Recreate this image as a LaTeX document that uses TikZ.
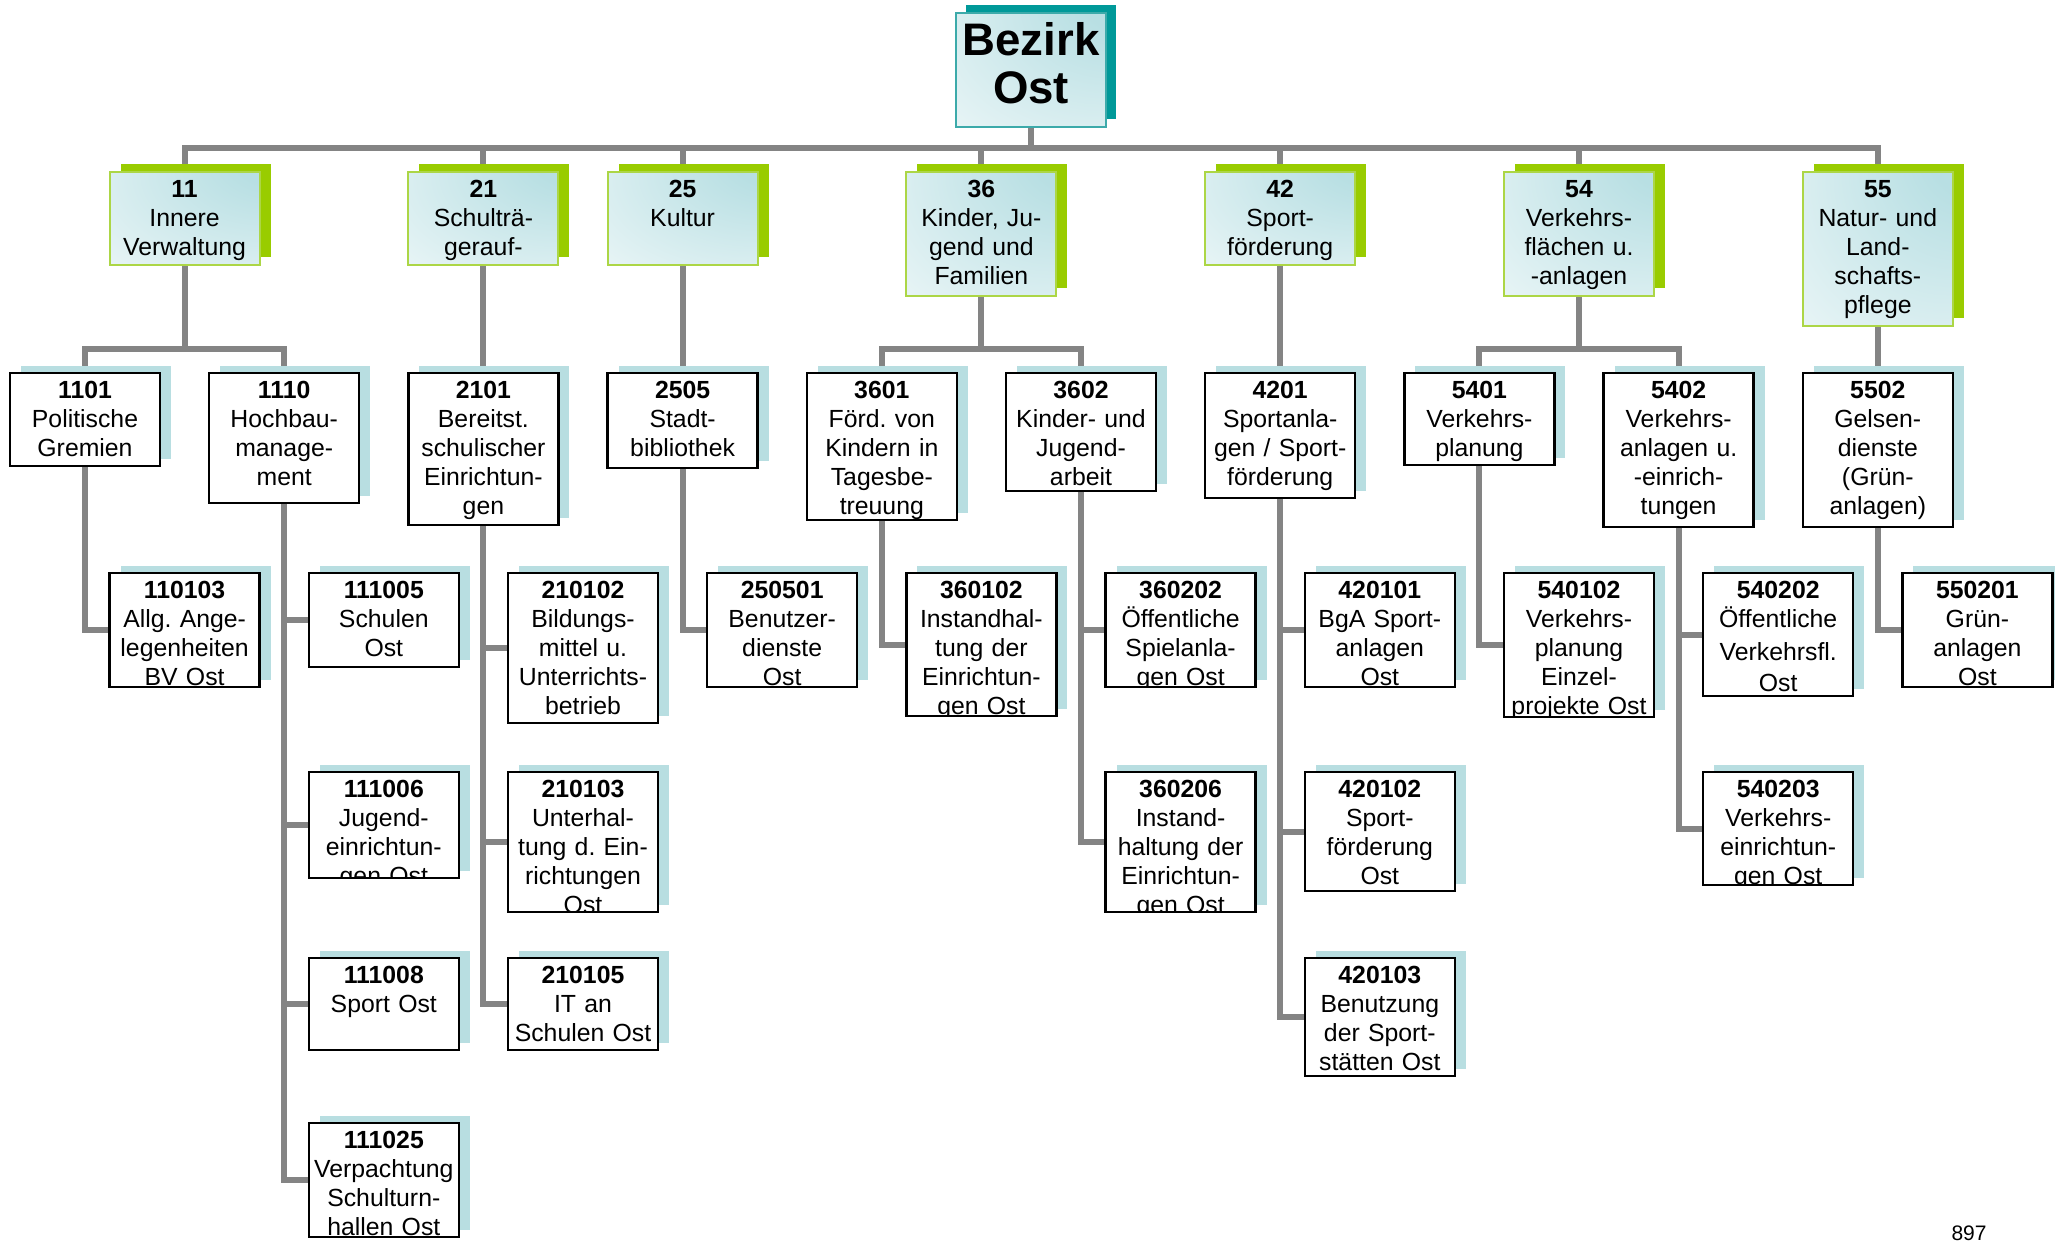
\documentclass[tikz,border=0pt]{standalone}
\usepackage{fontspec}
\setmainfont{Liberation Sans}
\usetikzlibrary{backgrounds}
\definecolor{conncol}{RGB}{132,132,132}
\definecolor{lblue}{RGB}{184,222,225}
\definecolor{lgreen}{RGB}{153,204,0}
\definecolor{lgreenb}{RGB}{172,214,70}
\definecolor{tealc}{RGB}{0,153,153}
\definecolor{tealb}{RGB}{60,170,170}
\definecolor{lcyan}{RGB}{184,223,227}
\pgfdeclareradialshading{boxshade}{\pgfpoint{38bp}{38bp}}{color(0bp)=(lcyan); color(15bp)=(lcyan); color(80bp)=(white); color(100bp)=(white)}
\tikzset{
  conn/.style={draw=conncol, line width=3pt},
  wshadow/.style={fill=lblue, shift={(11,-7)}},
  gshadow/.style={fill=lgreen, shift={(11,-8)}},
  tshadow/.style={fill=tealc, shift={(10,-8)}},
  wbox/.style={rectangle, fill=white, draw=black, line width=1.25pt, minimum width=75pt, inner sep=0pt, outer sep=0pt},
  gbox/.style={rectangle, shade, shading=boxshade, draw=lgreenb, line width=1pt, minimum width=75pt, inner sep=0pt, outer sep=0pt},
  tbox/.style={rectangle, shade, shading=boxshade, draw=tealb, line width=1pt, minimum width=75pt, inner sep=0pt, outer sep=0pt},
  wborder/.style={draw=black, line width=1.25pt},
  gborder/.style={draw=lgreenb, line width=1pt},
  wtext/.style={align=center, text width=90pt, inner sep=0pt, font=\fontsize{12.4}{14.5}\selectfont\frenchspacing},
  gtext/.style={wtext},
  toptext/.style={align=center, text width=100pt, inner sep=0pt, font=\bfseries\fontsize{22.8}{24}\selectfont},
  pagenum/.style={inner sep=0pt, font=\fontsize{10.5}{12}\selectfont}
}
% #1 name, #2 kind (w/g), #3 centre x, #4 top y, #5 height, #6 text
\newcommand\orgbox[6]{%
  \fill[#2shadow] ({#3-75},#4) rectangle ++(150,#5);
  \node[#2box, minimum height={#5*0.5pt}, anchor=north] (#1) at (#3,#4) {};
  \begin{scope}
    \clip (#1.south west) rectangle (#1.north east);
    \node[#2text, anchor=base] (#1t) at (#3,{#4+25}) {#6};
  \end{scope}
  \draw[#2border] (#1.south west) rectangle (#1.north east);
}
\begin{document}
\begin{tikzpicture}[x=0.5pt,y=-0.5pt]
\useasboundingbox (0,0) rectangle (2055,1243);

% top
\fill[tshadow] (956,13) rectangle ++(150,114);
\node[tbox, minimum height=57pt, anchor=north] (top) at (1031,13) {};
\node[toptext, anchor=base] (topt) at (1031,55) {Bezirk\\Ost};

% level 1
\orgbox{l11}{g}{184.6}{172}{93}{\textbf{11}\\Innere\\Verwaltung}
\orgbox{l21}{g}{483.4}{172}{93}{\textbf{21}\\Schulträ-\\gerauf-}
\orgbox{l25}{g}{682.6}{172}{93}{\textbf{25}\\Kultur}
\orgbox{l36}{g}{981.4}{172}{124}{\textbf{36}\\Kinder, Ju-\\gend und\\Familien}
\orgbox{l42}{g}{1280.2}{172}{93}{\textbf{42}\\Sport-\\förderung}
\orgbox{l54}{g}{1579}{172}{124}{\textbf{54}\\Verkehrs-\\flächen u.\\-anlagen}
\orgbox{l55}{g}{1877.8}{172}{154}{\textbf{55}\\Natur- und\\Land-\\schafts-\\pflege}

% level 2
\orgbox{n1101}{w}{85}{373}{93}{\textbf{1101}\\Politische\\Gremien}
\orgbox{n1110}{w}{284.2}{373}{130}{\textbf{1110}\\Hochbau-\\manage-\\ment}
\orgbox{n2101}{w}{483.4}{373}{152}{\textbf{2101}\\Bereitst.\\schulischer\\Einrichtun-\\gen}
\orgbox{n2505}{w}{682.6}{373}{95}{\textbf{2505}\\Stadt-\\bibliothek}
\orgbox{n3601}{w}{881.8}{373}{147}{\textbf{3601}\\Förd. von\\Kindern in\\Tagesbe-\\treuung}
\orgbox{n3602}{w}{1081}{373}{118}{\textbf{3602}\\Kinder- und\\Jugend-\\arbeit}
\orgbox{n4201}{w}{1280.2}{373}{125}{\textbf{4201}\\Sportanla-\\gen / Sport-\\förderung}
\orgbox{n5401}{w}{1479.4}{373}{92}{\textbf{5401}\\Verkehrs-\\planung}
\orgbox{n5402}{w}{1678.6}{373}{154}{\textbf{5402}\\Verkehrs-\\anlagen u.\\-einrich-\\tungen}
\orgbox{n5502}{w}{1877.8}{373}{154}{\textbf{5502}\\Gelsen-\\dienste\\(Grün-\\anlagen)}

% level 3, row a
\orgbox{n110103}{w}{184.6}{573}{114}{\textbf{110103}\\Allg. Ange-\\legenheiten\\BV Ost}
\orgbox{n111005}{w}{383.8}{573}{94}{\textbf{111005}\\Schulen\\Ost}
\orgbox{n210102}{w}{583}{573}{150}{\textbf{210102}\\Bildungs-\\mittel u.\\Unterrichts-\\betrieb}
\orgbox{n250501}{w}{782.2}{573}{114}{\textbf{250501}\\Benutzer-\\dienste\\Ost}
\orgbox{n360102}{w}{981.4}{573}{143}{\textbf{360102}\\Instandhal-\\tung der\\Einrichtun-\\gen Ost}
\orgbox{n360202}{w}{1180.6}{573}{114}{\textbf{360202}\\Öffentliche\\Spielanla-\\gen Ost}
\orgbox{n420101}{w}{1379.8}{573}{114}{\textbf{420101}\\BgA Sport-\\anlagen\\Ost}
\orgbox{n540102}{w}{1579}{573}{144}{\textbf{540102}\\Verkehrs-\\planung\\Einzel-\\projekte Ost}
\orgbox{n540202}{w}{1778.2}{573}{123}{\textbf{540202}\\Öffentliche\\[2pt]Verkehrsfl.\\[1pt]Ost}
\orgbox{n550201}{w}{1977.4}{573}{114}{\textbf{550201}\\Grün-\\anlagen\\Ost}
% row b
\orgbox{n111006}{w}{383.8}{772}{106}{\textbf{111006}\\Jugend-\\einrichtun-\\gen Ost}
\orgbox{n210103}{w}{583}{772}{140}{\textbf{210103}\\Unterhal-\\tung d. Ein-\\richtungen\\Ost}
\orgbox{n360206}{w}{1180.6}{772}{140}{\textbf{360206}\\Instand-\\haltung der\\Einrichtun-\\gen Ost}
\orgbox{n420102}{w}{1379.8}{772}{119}{\textbf{420102}\\Sport-\\förderung\\Ost}
\orgbox{n540203}{w}{1778.2}{772}{113}{\textbf{540203}\\Verkehrs-\\einrichtun-\\gen Ost}
% row c
\orgbox{n111008}{w}{383.8}{958}{92}{\textbf{111008}\\Sport Ost}
\orgbox{n210105}{w}{583}{958}{92}{\textbf{210105}\\IT an\\Schulen Ost}
\orgbox{n420103}{w}{1379.8}{958}{118}{\textbf{420103}\\Benutzung\\der Sport-\\stätten Ost}
% row d
\orgbox{n111025}{w}{383.8}{1123}{114}{\textbf{111025}\\Verpachtung\\Schulturn-\\hallen Ost}

\node[pagenum, anchor=base] (pnum) at (1969,1240) {897};

% connectors
\begin{pgfonlayer}{background}
\coordinate (b0) at (1031,148);
\coordinate (y349) at (0,349);
\draw[conn] (top.south) -- (b0);
\draw[conn] (l11.north) |- (b0) -| (l55.north);
\foreach \n in {l21,l25,l36,l42,l54} \draw[conn] (\n.north) -- (\n.north |- b0);
\coordinate (j11) at (l11.south |- y349);
\coordinate (j36) at (l36.south |- y349);
\coordinate (j54) at (l54.south |- y349);
\draw[conn] (l11.south) -- (j11);
\draw[conn] (n1101.north) |- (j11) -| (n1110.north);
\draw[conn] (l36.south) -- (j36);
\draw[conn] (n3601.north) |- (j36) -| (n3602.north);
\draw[conn] (l54.south) -- (j54);
\draw[conn] (n5401.north) |- (j54) -| (n5402.north);
\draw[conn] (l21.south) -- (n2101.north);
\draw[conn] (l25.south) -- (n2505.north);
\draw[conn] (l42.south) -- (n4201.north);
\draw[conn] (l55.south) -- (n5502.north);
\foreach \p/\c in {n1101/n110103, n1110/n111005, n1110/n111006, n1110/n111008, n1110/n111025,
  n2101/n210102, n2101/n210103, n2101/n210105, n2505/n250501, n3601/n360102,
  n3602/n360202, n3602/n360206, n4201/n420101, n4201/n420102, n4201/n420103,
  n5401/n540102, n5402/n540202, n5402/n540203, n5502/n550201}
  \draw[conn] (\p.south) |- (\c.west);
\end{pgfonlayer}
\end{tikzpicture}
\end{document}
